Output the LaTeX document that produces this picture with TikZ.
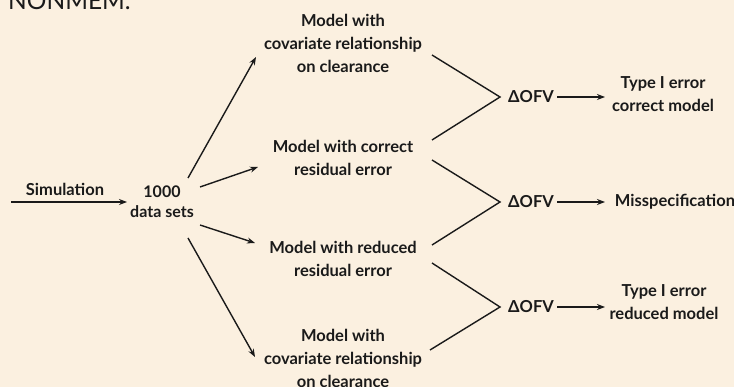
\documentclass[tikz,border=0pt]{standalone}
\usepackage{fontspec}
\setmainfont{Lato}
\usetikzlibrary{arrows.meta,calc}
\definecolor{bg}{HTML}{FBF0E0}
\definecolor{ink}{HTML}{1A1A1A}
\begin{document}
\begin{tikzpicture}[x=1pt,y=-1pt,
  lbl/.style={font=\bfseries\fontsize{16.5}{23}\selectfont, align=center, inner sep=0pt, text=ink},
  dsl/.style={font=\bfseries\fontsize{16}{20}\selectfont, align=center, inner sep=0pt, text=ink},
  arr/.style={draw=ink, line width=1.4pt, -{Stealth[length=8pt,width=6pt]}},
  ln/.style={draw=ink, line width=1.4pt}]
\fill[bg] (0,0) rectangle (734,387);
\useasboundingbox (0,0) rectangle (734,387);

\node[anchor=base west, inner sep=0pt, font=\fontsize{24.5}{24}\selectfont, text=ink] (title) at (8,10) {NONMEM.};

\node[lbl] (sim) at (65,189) {Simulation};
\node[dsl] (ds) at (162,202) {1000\\data sets};
\coordinate (s0) at (11,202);
\draw[arr] (s0) -- ($(ds)+(-35,0)$);

\node[lbl] (m1) at (343,43) {Model with\\covariate relationship\\on clearance};
\node[lbl] (m2) at (343,158) {Model with correct\\residual error};
\node[lbl] (m3) at (343,259) {Model with reduced\\residual error};
\node[lbl] (m4) at (343,358) {Model with\\covariate relationship\\on clearance};

\draw[arr] ($(ds)+(26,-24)$) -- ($(m1)+(-87,14)$);
\draw[arr] ($(ds)+(38,-15)$) -- ($(m2)+(-85,9)$);
\draw[arr] ($(ds)+(38,23)$) -- ($(m3)+(-88,-16)$);
\draw[arr] ($(ds)+(26,36)$) -- ($(m4)+(-88,-1)$);

\node[lbl] (o1) at (531,97) {ΔOFV};
\node[lbl] (o2) at (531,202) {ΔOFV};
\node[lbl] (o3) at (531,307) {ΔOFV};

\draw[ln] ($(m1)+(89,12)$) -- ($(o1)+(-31,0)$) -- ($(m2)+(89,-18)$);
\draw[ln] ($(m2)+(89,2)$) -- ($(o2)+(-31,0)$) -- ($(m3)+(89,-14)$);
\draw[ln] ($(m3)+(89,4)$) -- ($(o3)+(-31,0)$) -- ($(m4)+(87,-8)$);

\node[lbl] (r1) at (663,94) {Type I error\\correct model};
\node[lbl] (r2) at (675,202) {Misspecification};
\node[lbl] (r3) at (664,302) {Type I error\\reduced model};

\draw[arr] ($(o1)+(26,0)$) -- ($(r1)+(-58,3)$);
\draw[arr] ($(o2)+(26,0)$) -- ($(r2)+(-70,0)$);
\draw[arr] ($(o3)+(26,0)$) -- ($(r3)+(-59,5)$);
\end{tikzpicture}
\end{document}
